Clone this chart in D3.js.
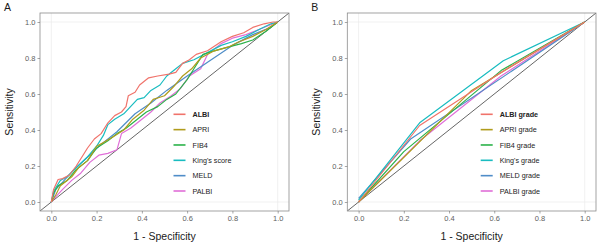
<!DOCTYPE html>
<html>
<head>
<meta charset="utf-8">
<script src="https://cdn.jsdelivr.net/npm/d3@7"></script>
<style>
  body { margin: 0; background: #fff; }
  svg { display: block; font-family: "Liberation Sans", Arial, sans-serif; }
  .tick text { fill: #5e5e5e; font-size: 7.5px; }
  .tick line { stroke: #6b6b6b; stroke-width: 0.6; }
  .domain { display: none; }
</style>
</head>
<body>
<svg id="chart" width="600" height="247"></svg>
<script>
const svg = d3.select("#chart");

const tickValues = [0, 0.2, 0.4, 0.6, 0.8, 1.0];
const colors = ["#F0736B", "#B09C1C", "#2BB24A", "#19BCC0", "#4F8DC8", "#E06FD8"];

// panel A: continuous scores (ROC vertices)
const namesA = ["ALBI", "APRI", "FIB4", "King's score", "MELD", "PALBI"];
const albi = [[0,0],[0.01,0.07],[0.03,0.125],[0.05,0.13],[0.08,0.15],[0.11,0.2],[0.14,0.26],[0.16,0.3],[0.19,0.35],[0.22,0.38],[0.25,0.44],[0.28,0.48],[0.31,0.5],[0.33,0.53],[0.34,0.59],[0.37,0.61],[0.39,0.65],[0.43,0.69],[0.47,0.7],[0.52,0.71],[0.55,0.72],[0.58,0.77],[0.61,0.79],[0.64,0.82],[0.69,0.84],[0.75,0.89],[0.8,0.92],[0.85,0.94],[0.89,0.97],[0.94,0.99],[0.98,1],[1,1]];
const apri = [[0,0],[0.02,0.04],[0.04,0.09],[0.06,0.11],[0.09,0.14],[0.12,0.19],[0.16,0.23],[0.2,0.31],[0.23,0.33],[0.27,0.36],[0.32,0.4],[0.36,0.46],[0.41,0.51],[0.45,0.57],[0.5,0.59],[0.54,0.64],[0.58,0.7],[0.62,0.74],[0.66,0.8],[0.72,0.84],[0.78,0.86],[0.83,0.89],[0.89,0.92],[0.95,0.96],[1,1]];
const fib4 = [[0,0],[0.01,0.05],[0.03,0.09],[0.07,0.12],[0.11,0.18],[0.16,0.23],[0.2,0.3],[0.25,0.34],[0.29,0.38],[0.33,0.41],[0.38,0.46],[0.42,0.5],[0.47,0.53],[0.51,0.57],[0.55,0.6],[0.6,0.68],[0.63,0.74],[0.67,0.82],[0.72,0.84],[0.78,0.86],[0.84,0.88],[0.89,0.9],[0.95,0.95],[1,1]];
const kings = [[0,0],[0.01,0.06],[0.025,0.09],[0.04,0.12],[0.07,0.14],[0.11,0.19],[0.16,0.25],[0.2,0.31],[0.23,0.37],[0.25,0.43],[0.28,0.46],[0.32,0.49],[0.35,0.53],[0.38,0.57],[0.41,0.58],[0.44,0.62],[0.48,0.65],[0.51,0.7],[0.55,0.74],[0.58,0.77],[0.63,0.79],[0.69,0.83],[0.75,0.87],[0.8,0.89],[0.86,0.92],[0.92,0.96],[0.97,0.99],[1,1]];
const meld = [[0,0],[0.02,0.07],[0.05,0.11],[0.1,0.18],[0.16,0.25],[0.22,0.32],[0.29,0.39],[0.37,0.49],[0.44,0.55],[0.51,0.62],[0.6,0.7],[0.8,0.87],[0.89,0.93],[0.97,0.97],[1,1]];
const palbi = [[0,0],[0.02,0.03],[0.05,0.07],[0.09,0.12],[0.13,0.16],[0.17,0.22],[0.21,0.26],[0.25,0.27],[0.29,0.29],[0.31,0.38],[0.35,0.41],[0.4,0.46],[0.44,0.5],[0.48,0.55],[0.53,0.59],[0.57,0.63],[0.61,0.7],[0.66,0.74],[0.69,0.82],[0.75,0.88],[0.8,0.91],[0.86,0.93],[0.92,0.96],[0.98,0.99],[1,1]];

// panel B: grades (few thresholds, straight segments)
const namesB = ["ALBI grade", "APRI grade", "FIB4 grade", "King's grade", "MELD grade", "PALBI grade"];
const albiGrade = [[0,0],[0.27,0.425],[0.63,0.72],[1,1]];
const apriGrade = [[0,0],[0.5,0.62],[1,1]];
const fib4Grade = [[0,0],[0.2,0.28],[0.63,0.73],[1,1]];
const kingsGrade = [[0,0.01],[0.27,0.44],[0.64,0.785],[1,1]];
const meldGrade = [[0,0.02],[0.23,0.35],[1,1]];
const palbiGrade = [[0,0],[0.27,0.34],[0.63,0.7],[1,1]];

function drawPanel(opts) {
  const { left, right, top, bottom, label, names, curves, legendX } = opts;
  const g = svg.append("g");
  const x = d3.scaleLinear().domain([-0.05, 1.05]).range([left, right]);
  const y = d3.scaleLinear().domain([-0.05, 1.05]).range([bottom, top]);

  // faint grid only at the end ticks
  [0, 1].forEach(v => {
    g.append("line").attr("x1", x(v)).attr("x2", x(v)).attr("y1", top).attr("y2", bottom)
      .attr("stroke", "#ebebeb").attr("stroke-width", 0.7);
    g.append("line").attr("y1", y(v)).attr("y2", y(v)).attr("x1", left).attr("x2", right)
      .attr("stroke", "#ebebeb").attr("stroke-width", 0.7);
  });

  const clipId = "clip-" + label;
  svg.append("clipPath").attr("id", clipId).append("rect")
    .attr("x", left).attr("y", top).attr("width", right - left).attr("height", bottom - top);

  const line = d3.line().x(d => x(d[0])).y(d => y(d[1]));

  const plot = g.append("g").attr("clip-path", `url(#${clipId})`);
  plot.append("line")
    .attr("x1", x(-0.05)).attr("y1", y(-0.05)).attr("x2", x(1.05)).attr("y2", y(1.05))
    .attr("stroke", "#222").attr("stroke-width", 0.7);

  // reverse order so ALBI sits on top
  curves.map((c, i) => ({ c, i })).reverse().forEach(({ c, i }) => {
    plot.append("path").datum(c).attr("d", line)
      .attr("fill", "none").attr("stroke", colors[i]).attr("stroke-width", 1.2)
      .attr("stroke-linejoin", "round");
  });

  g.append("rect").attr("x", left).attr("y", top).attr("width", right - left).attr("height", bottom - top)
    .attr("fill", "none").attr("stroke", "#8c8c8c").attr("stroke-width", 0.8);

  g.append("g").attr("transform", `translate(0,${bottom})`)
    .call(d3.axisBottom(x).tickValues(tickValues).tickFormat(d3.format(".1f")).tickSize(2.5).tickPadding(2));
  g.append("g").attr("transform", `translate(${left},0)`)
    .call(d3.axisLeft(y).tickValues(tickValues).tickFormat(d3.format(".1f")).tickSize(2.5).tickPadding(2));

  g.append("text").attr("x", (x(0) + x(1)) / 2).attr("y", 240)
    .attr("text-anchor", "middle").attr("font-size", 10.5).attr("fill", "#1a1a1a").text("1 - Specificity");
  g.append("text").attr("transform", `translate(${left - 27},${(top + bottom) / 2}) rotate(-90)`)
    .attr("text-anchor", "middle").attr("font-size", 10.5).attr("fill", "#1a1a1a").text("Sensitivity");
  g.append("text").attr("x", left - 36).attr("y", 11).attr("font-size", 10.5).attr("fill", "#1a1a1a").text(label);

  // legend
  const rowY = d3.scalePoint().domain(names).range([114.3, 191]);
  const leg = g.append("g");
  names.forEach((n, i) => {
    leg.append("line").attr("x1", legendX).attr("x2", legendX + 12).attr("y1", rowY(n)).attr("y2", rowY(n))
      .attr("stroke", colors[i]).attr("stroke-width", 1.6);
    leg.append("text").attr("x", legendX + 19).attr("y", rowY(n)).attr("dy", "0.35em")
      .attr("font-size", 7.2).attr("fill", "#222").attr("font-weight", i === 0 ? "bold" : "normal").text(n);
  });
}

drawPanel({ left: 40, right: 289, top: 13, bottom: 211, label: "A", names: namesA,
  curves: [albi, apri, fib4, kings, meld, palbi], legendX: 173.5 });
drawPanel({ left: 347.3, right: 596, top: 13, bottom: 211, label: "B", names: namesB,
  curves: [albiGrade, apriGrade, fib4Grade, kingsGrade, meldGrade, palbiGrade], legendX: 480.7 });
</script>
</body>
</html>
